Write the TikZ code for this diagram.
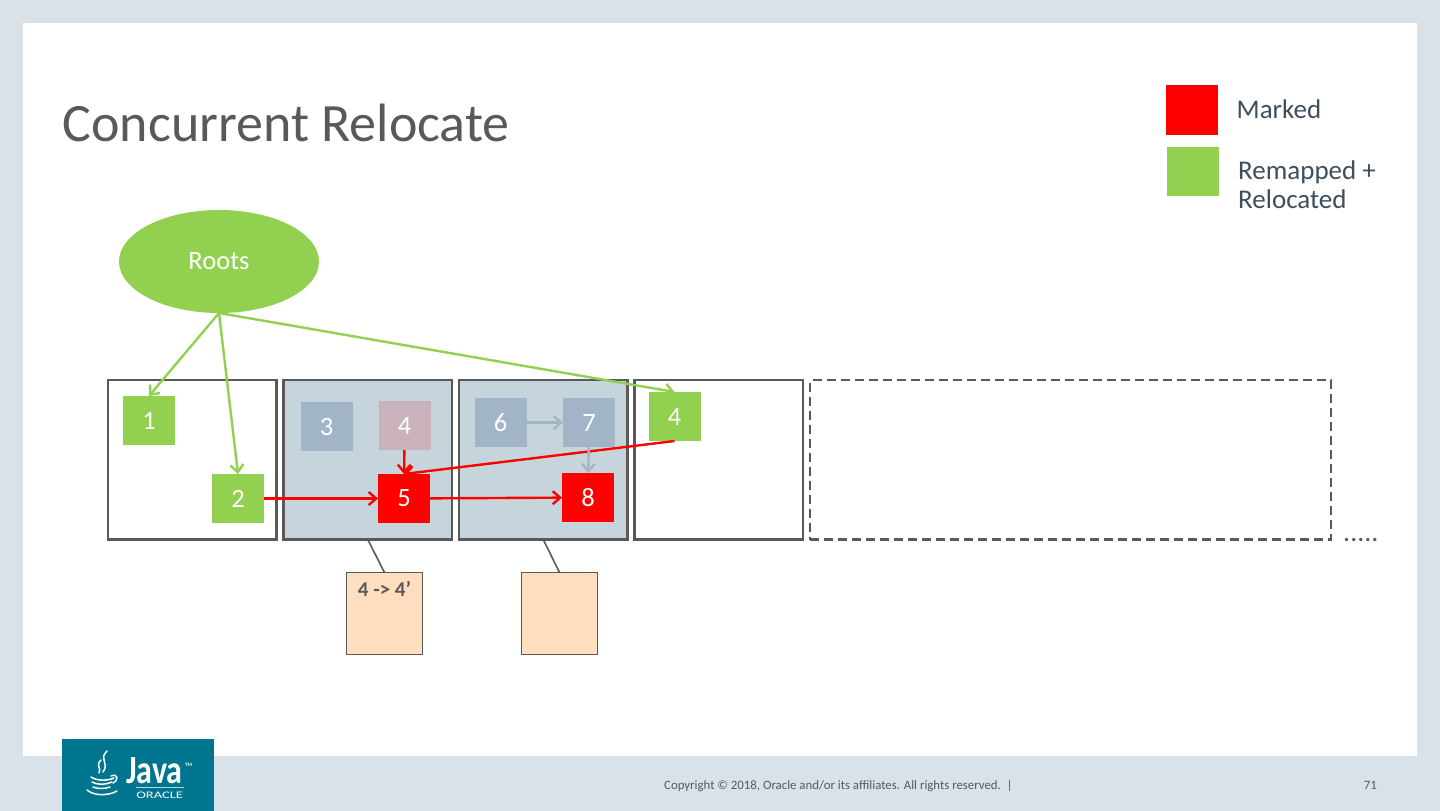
\documentclass[tikz,border=0pt]{standalone}
\usepackage{fontspec}
\setmainfont{Carlito}
\usepackage{tikz}
\usetikzlibrary{shapes.geometric, arrows.meta, positioning}
\definecolor{slidebg}{RGB}{217, 226, 232}
\definecolor{inkgrey}{RGB}{89, 89, 89}
\definecolor{legendink}{RGB}{62, 78, 94}
\definecolor{markred}{RGB}{255, 0, 0}
\definecolor{remapgreen}{RGB}{146, 208, 80}
\definecolor{regionfill}{RGB}{197, 213, 219}
\definecolor{fadeblue}{RGB}{162, 181, 198}
\definecolor{fadepink}{RGB}{201, 178, 188}
\definecolor{tablefill}{RGB}{255, 223, 191}
\definecolor{javateal}{RGB}{0, 117, 143}

\begin{document}
\begin{tikzpicture}[
    x=1pt, y=-1pt, node distance=7pt, >={Straight Barb[length=7.5pt, width=13pt]},
    region/.style={rectangle, draw=inkgrey, line width=2.6pt, minimum width=168.5pt, minimum height=159.5pt, inner sep=0pt, outer sep=0pt},
    objbox/.style={rectangle, minimum width=52pt, minimum height=49pt, inner sep=0pt, outer sep=0pt, text=white, font=\fontsize{26.5}{26.5}\selectfont},
    tablebox/.style={rectangle, draw=inkgrey, line width=1.6pt, fill=tablefill, minimum width=76pt, minimum height=82pt, inner sep=0pt, outer sep=0pt},
    legendtext/.style={text=legendink, align=left, inner sep=0pt, font=\fontsize{27}{29}\selectfont},
    greenline/.style={draw=remapgreen, ->, line width=2.4pt},
    redline/.style={draw=markred, ->, line width=2.4pt},
    fadeline/.style={draw=fadeblue, ->, line width=2.4pt},
    tieline/.style={draw=inkgrey, line width=1.6pt},
    logoline/.style={draw=white, line width=1.5pt, line cap=round}
  ]
    \useasboundingbox (0,0) rectangle (1440,811);
    \fill[slidebg] (0,0) rectangle (1440,811);
    \fill[white] (23,23) rectangle (1417,756);

    \node (title) [anchor=base west, inner sep=0pt, text=inkgrey, font=\fontsize{54}{54}\selectfont] at (62.5,141) {Concurrent Relocate};

    \node (keyred) [objbox, fill=markred, minimum height=50pt, anchor=north west] at (1166,85) {};
    \node (keygreen) [objbox, fill=remapgreen, anchor=north west] at (1167,147) {};
    \node (keyredtext) [legendtext, anchor=west] at (1236.5,109) {Marked};
    \node (keygreentext) [legendtext, anchor=west] at (1238,185) {Remapped +\\Relocated};

    \node (roots) [ellipse, fill=remapgreen, minimum width=200pt, minimum height=103pt, inner sep=0pt, outer sep=0pt, text=white, font=\fontsize{26.5}{26.5}\selectfont] at (219,261.5) {Roots};

    \node (r1) [region, anchor=north west] at (108,380) {};
    \node (r2) [region, fill=regionfill, right=of r1] {};
    \node (r3) [region, fill=regionfill, right=of r2] {};
    \node (r4) [region, right=of r3] {};
    \node (r5) [region, dash pattern=on 9pt off 5pt, minimum width=521pt, right=of r4] {};
    \node (more) [inner sep=0pt, text=inkgrey, font=\fontsize{28}{28}\selectfont, anchor=base west] at (1343,541) {.....};

    \node (o1) [objbox, fill=remapgreen, below right=16pt and 15pt of r1.north west] {1};
    \node (o2) [objbox, fill=remapgreen, below right=29pt and 37pt of o1] {2};
    \node (o3) [objbox, fill=fadeblue, below right=22pt and 17pt of r2.north west] {3};
    \node (o4) [objbox, fill=fadepink, right=26pt of o3, yshift=1pt] {4};
    \node (o5) [objbox, fill=markred, below=24pt of o4, xshift=-.5pt] {5};
    \node (o6) [objbox, fill=fadeblue, below right=18pt and 15.5pt of r3.north west] {6};
    \node (o7) [objbox, fill=fadeblue, right=36.5pt of o6] {7};
    \node (o8) [objbox, fill=markred, right=132pt of o5, yshift=1pt] {8};
    \node (o4new) [objbox, fill=remapgreen, below right=12pt and 14pt of r4.north west] {4};

    \node (fwd1) [tablebox, anchor=north west] at (346.5,572.5) {};
    \node (fwd2) [tablebox, anchor=north west] at (521.5,572.5) {};
    \node (fwd1text) [below=9pt of fwd1.north, inner sep=0pt, text=inkgrey, font=\fontsize{21}{21}\selectfont\bfseries] {4 -> 4’};

    \draw[tieline] (r2.south) -- (fwd1.north);
    \draw[tieline] (r3.south) -- (fwd2.north);

    \draw[greenline] (roots.south) -- (o1.north);
    \draw[greenline] (roots.south) -- (o2.north);
    \draw[greenline] (roots.south) -- (o4new.north);
    \draw[redline] (o2) -- (o5);
    \draw[redline] (o5) -- (o8);
    \draw[redline] (o4) -- (o5);
    \draw[redline] (o4new.south) -- (o5.north);
    \draw[fadeline] (o6) -- (o7);
    \draw[fadeline] (o7) -- (o8);

    \node (logo) [rectangle, fill=javateal, minimum width=152pt, minimum height=72pt, inner sep=0pt, outer sep=0pt, anchor=north west] at (62,739) {};
    \node (java) [inner sep=0pt, text=white, anchor=base west, xscale=.8, font=\fontsize{40}{40}\selectfont\bfseries] at (126,783) {Java};
    \node (tm) [inner sep=0pt, text=white, anchor=base west, font=\fontsize{5}{5}\selectfont\bfseries] at (185,766) {TM};
    \node (oracle) [inner sep=0pt, text=white, anchor=base west, xscale=1.45, font=\fontsize{10}{10}\selectfont] at (136,798) {ORACLE};
    \draw[white!70!javateal, line width=.6pt] (136,787) -- (184,787);
    \draw[logoline] (107,751) .. controls (98,760) and (110,762) .. (103,772);
    \draw[logoline] (101,760) .. controls (95,766) and (102,768) .. (99,773);
    \draw[logoline] (91,777) .. controls (97,781) and (107,781) .. (114,778);
    \draw[logoline] (92,782) .. controls (97,785) and (106,785) .. (112,782);
    \draw[logoline] (93,787) .. controls (98,789) and (105,789) .. (110,787);
    \draw[logoline] (111,776) .. controls (118,773) and (119,780) .. (113,783);
    \draw[logoline] (87,790) .. controls (94,796) and (108,796) .. (117,791);

    \node (copyright) [inner sep=0pt, text=inkgrey, anchor=base west, font=\fontsize{12.8}{13}\selectfont] at (664,789) {Copyright © 2018, Oracle and/or its affiliates. All rights reserved.~~|};
    \node (pagenum) [inner sep=0pt, text=inkgrey, anchor=base east, font=\fontsize{12.8}{13}\selectfont] at (1377,789) {71};
  \end{tikzpicture}
\end{document}
